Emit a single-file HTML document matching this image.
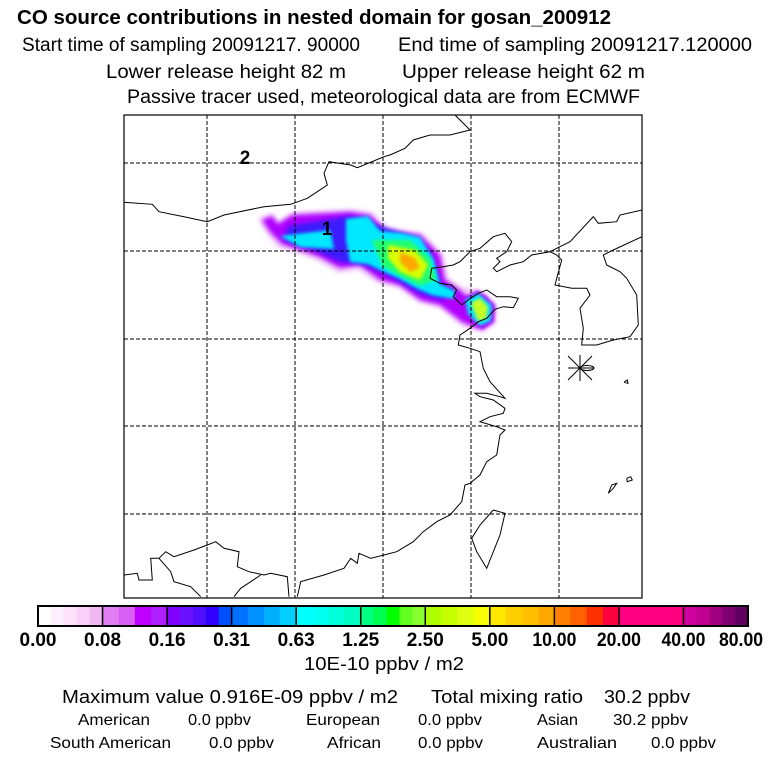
<!DOCTYPE html>
<html><head><meta charset="utf-8"><style>
html,body{margin:0;padding:0;background:#fff}
svg{display:block;font-family:"Liberation Sans",sans-serif}
</style></head><body>
<svg width="768" height="768" viewBox="0 0 768 768">
<defs>
<filter id="bl" x="-20%" y="-20%" width="140%" height="140%"><feGaussianBlur stdDeviation="2.5"/></filter>
<filter id="bl2" x="-20%" y="-20%" width="140%" height="140%"><feGaussianBlur stdDeviation="1.5"/></filter>
<clipPath id="mapclip"><rect x="124" y="115" width="518" height="483"/></clipPath>
</defs>
<g fill="#000">
<text x="17" y="24" font-size="20" font-weight="bold" textLength="594" lengthAdjust="spacingAndGlyphs">CO  source contributions in nested domain for gosan_200912</text>
<text x="22" y="51" font-size="19" textLength="338" lengthAdjust="spacingAndGlyphs">Start time of sampling 20091217. 90000</text>
<text x="398" y="51" font-size="19" textLength="354" lengthAdjust="spacingAndGlyphs">End time of sampling 20091217.120000</text>
<text x="106" y="78" font-size="19" textLength="240" lengthAdjust="spacingAndGlyphs">Lower release height   82 m</text>
<text x="402" y="78" font-size="19" textLength="243" lengthAdjust="spacingAndGlyphs">Upper release height   62 m</text>
<text x="127" y="103" font-size="19" textLength="513" lengthAdjust="spacingAndGlyphs">Passive tracer used, meteorological data are from ECMWF</text>
</g>
<g clip-path="url(#mapclip)">
<g id="plume"></g>
<g id="grid"></g>
<g id="coast" fill="none" stroke="#000" stroke-width="1"></g>
</g>
<rect x="124" y="115" width="518" height="483" fill="none" stroke="#000" stroke-width="1.2"/>
<text x="327" y="235" font-size="19" font-weight="bold" text-anchor="middle">1</text>
<text x="245" y="164" font-size="19" font-weight="bold" text-anchor="middle">2</text>
<g stroke="#000" stroke-width="1" fill="none">
<line x1="568" y1="356" x2="592" y2="380"/><line x1="568" y1="380" x2="592" y2="356"/><line x1="580" y1="355" x2="580" y2="381"/><line x1="568" y1="368" x2="594" y2="368"/>
<ellipse cx="587" cy="368" rx="7" ry="2.5"/>
</g>
<g id="cbar"></g>
<text x="384" y="670" font-size="18" text-anchor="middle" textLength="160" lengthAdjust="spacingAndGlyphs">10E-10 ppbv / m2</text>
<g font-size="18">
<text x="62" y="703" textLength="336" lengthAdjust="spacingAndGlyphs">Maximum value  0.916E-09 ppbv / m2</text>
<text x="431" y="703" textLength="152" lengthAdjust="spacingAndGlyphs">Total mixing ratio</text>
<text x="604" y="703" textLength="86" lengthAdjust="spacingAndGlyphs">30.2 ppbv</text>
</g>
<g font-size="16">
<text x="78" y="725" textLength="72" lengthAdjust="spacingAndGlyphs">American</text>
<text x="188" y="725" textLength="63" lengthAdjust="spacingAndGlyphs">0.0 ppbv</text>
<text x="306" y="725" textLength="74" lengthAdjust="spacingAndGlyphs">European</text>
<text x="418" y="725" textLength="64" lengthAdjust="spacingAndGlyphs">0.0 ppbv</text>
<text x="537" y="725" textLength="41" lengthAdjust="spacingAndGlyphs">Asian</text>
<text x="613" y="725" textLength="75" lengthAdjust="spacingAndGlyphs">30.2 ppbv</text>
<text x="50" y="748" textLength="121" lengthAdjust="spacingAndGlyphs">South American</text>
<text x="209" y="748" textLength="65" lengthAdjust="spacingAndGlyphs">0.0 ppbv</text>
<text x="327" y="748" textLength="54" lengthAdjust="spacingAndGlyphs">African</text>
<text x="418" y="748" textLength="65" lengthAdjust="spacingAndGlyphs">0.0 ppbv</text>
<text x="537" y="748" textLength="80" lengthAdjust="spacingAndGlyphs">Australian</text>
<text x="651" y="748" textLength="65" lengthAdjust="spacingAndGlyphs">0.0 ppbv</text>
</g>
</svg>
<script>
const NS='http://www.w3.org/2000/svg';
const cbLabels=['0.00','0.08','0.16','0.31','0.63','1.25','2.50','5.00','10.00','20.00','40.00','80.00'];
const cbColors=[
['#ffffff','#ffeefc','#fde0fa','#f9d0f7','#f2b8f2'],
['#e080f2','#d860f4','#c000ff','#b020ff'],
['#8000ff','#6a10ff','#5010ff','#3000ff','#0050ff'],
['#0070ff','#0090ff','#00b0ff','#00d0ff'],
['#00ffff','#00fff0','#00ffd8','#00ffc0'],
['#00ff80','#00ff50','#00ff00','#60ff20','#88ff30'],
['#b0ff00','#c8ff00','#e0ff10','#f8ff00'],
['#ffe800','#ffd000','#ffc000','#ffa800'],
['#ff8000','#ff6000','#ff3000','#ff0040'],
['#ff0080'],
['#d000a0','#c00090','#a00080','#800070','#600060']];
const gridX=[207,295,383,471,559], gridY=[163,251,339,426,514];
function mk(tag,attrs,parent){const e=document.createElementNS(NS,tag);for(const k in attrs)e.setAttribute(k,attrs[k]);parent.appendChild(e);return e;}
const cb=document.getElementById('cbar');const x0=38,x1=748,cy=606,ch=20;const seg=(x1-x0)/(cbLabels.length-1);
cbColors.forEach((cols,i)=>{const sx=x0+i*seg,w=seg/cols.length;cols.forEach((c,j)=>{const r=mk('rect',{x:sx+j*w,y:cy,width:w+0.5,height:ch,fill:c},cb);

});});
cbLabels.forEach((l,i)=>{const x=x0+i*seg;
if(i>0&&i<cbLabels.length-1){const ln=mk('line',{x1:x,x2:x,y1:cy,y2:cy+ch,stroke:'#000','stroke-width':1.5},cb);}
const tl=l.length>4?44:37;
const t=mk('text',{x:Math.min(Math.max(x,19),741),y:646,'font-size':19,'font-weight':'bold','text-anchor':'middle',textLength:tl,lengthAdjust:'spacingAndGlyphs'},cb);t.textContent=l;

});
mk('rect',{x:x0,y:cy,width:x1-x0,height:ch,fill:'none',stroke:'#000','stroke-width':2},cb);
const g=document.getElementById('grid');
gridX.forEach(x=>{const l=mk('line',{x1:x,x2:x,y1:115,y2:598,stroke:'#000','stroke-dasharray':'4,2','stroke-width':1},g);});
gridY.forEach(y=>{const l=mk('line',{x1:124,x2:642,y1:y,y2:y,stroke:'#000','stroke-dasharray':'4,2','stroke-width':1},g);});
const p=document.getElementById('plume');
const layers=[
['#f0c8f8','258,218 272,213 280,221 292,212 352,209 372,212 388,228 422,232 443,254 448,278 462,287 478,290 497,304 496,324 482,333 462,326 440,308 420,303 398,288 378,283 358,270 338,273 318,261 298,253 278,248 266,233'],
['#b000ff','262,220 272,216 278,224 292,215 350,212 370,215 385,230 420,235 440,255 445,280 460,290 470,300 485,295 493,308 490,323 478,328 462,322 440,305 420,300 400,285 380,280 360,265 340,268 320,257 300,250 282,244 270,232'],
['#3a1cff','288,226 350,216 374,224 410,236 430,252 440,284 455,291 442,300 420,294 396,280 376,270 360,264 340,262 314,250 284,240'],
['#00e8ff','280,236 330,230 334,249 300,247'],
['#00e8ff','346,219 368,216 380,231 402,233 420,237 434,260 440,284 455,291 454,299 432,295 418,289 398,278 380,270 368,264 350,262 346,240'],
['#20ff70','372,240 410,240 430,258 436,280 420,286 400,276 382,266'],
['#d8ff00','388,245 415,250 428,265 420,280 400,272 388,258'],
['#ffa800','400,252 415,258 420,268 410,272 400,262'],
['#b000ff','462,298 478,290 495,305 494,322 482,330 466,318'],
['#00e0ff','465,300 478,293 492,305 491,321 480,326 468,314'],
['#c8ff20','471,303 480,298 488,307 486,319 478,321']];
layers.forEach((L,i)=>{const e=mk('polygon',{points:L[1],fill:L[0],filter:i<3?'url(#bl)':'url(#bl2)'},p);

});
const c=document.getElementById('coast');
function poly(ox,oy,pts,name){const s=pts.map((v,i)=>i%2?(oy+v/3).toFixed(1):(ox+v/3).toFixed(1));let d='';for(let i=0;i<s.length;i+=2)d+=s[i]+','+s[i+1]+' ';
const e=mk('polyline',{points:d},c);}
poly(124,115,[0,262,85,268,105,290,180,305,250,320,300,300,420,275,500,268,550,250,580,230,610,210,600,175,615,140,680,150,700,158,780,125,798,120,843,100,868,75,918,60,978,60,1038,45,993,0],'mongolia-border');
poly(124,115,[0,1380,40,1375,45,1395,85,1395,80,1330,105,1330,125,1310,150,1325,210,1305,250,1290,275,1280,300,1300,345,1310,340,1355,375,1370,420,1380,440,1375,490,1385,495,1445],'southern-border');
poly(124,115,[105,1330,140,1370,150,1400,200,1415,230,1445],'laos-border');
poly(124,115,[330,1445,350,1420,380,1400,410,1380],'vietnam-border');
poly(124,115,[520,1445,530,1400,600,1380,660,1360,680,1330,700,1345,705,1315,740,1330,780,1320,818,1310,868,1280,898,1250,938,1220,978,1200,1013,1160,1023,1110,1038,1105,1068,1080,1088,1040,1118,1020,1123,990,1128,960,1143,945,1118,935,1068,920,1098,905,1138,895,1143,880,1108,855,1068,845,1053,835,1088,835,1128,845,1143,850,1098,800,1078,760,1068,710,1038,700,1003,690,1008,660,1038,640,1063,620,1088,610,1113,583,1138,575,1168,578,1183,550,1158,545,1118,545,1088,525,1063,535,1033,555,1013,570,988,545,998,525,983,510,948,505,918,490,923,460,958,455,988,450,1008,440,1038,410,1068,400,1108,365,1143,355,1163,380,1148,410,1118,430,1128,440,1108,460,1118,470,1158,450,1198,440,1223,420,1278,410,1298,420,1313,435,1298,490,1293,510,1343,520,1388,520,1398,540,1368,580,1378,640,1373,690,1418,690,1468,675,1518,665,1543,630,1538,540,1508,490,1488,470,1448,450,1438,420,1468,405,1554,365],'china-korea-coast');
poly(124,115,[1278,410,1338,380,1408,305,1423,325,1478,320,1488,300,1554,285],'china-nk-border');
poly(124,115,[1108,1185,1143,1195,1128,1260,1088,1360,1058,1310,1043,1270,1068,1230,1108,1185],'taiwan');
poly(124,115,[1453,1135,1463,1110,1478,1105,1468,1120,1453,1135],'okinawa');
poly(124,115,[1508,1090,1520,1085,1525,1095,1510,1100,1508,1090],'island-a');
poly(124,115,[1500,802,1510,795,1512,805,1500,802],'island-b');
</script>
</body></html>
